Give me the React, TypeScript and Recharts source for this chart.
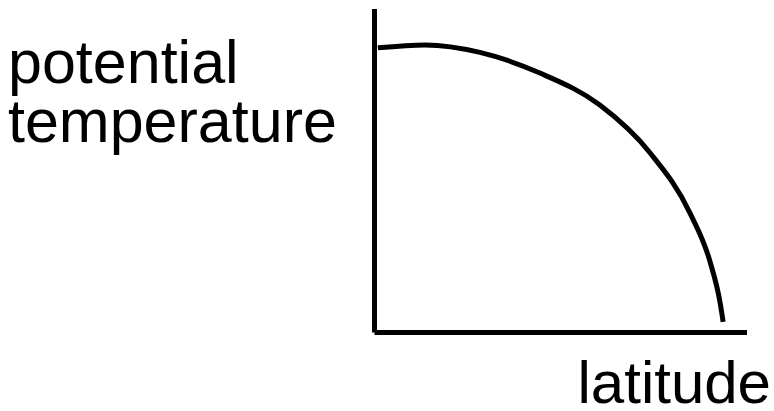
import { Line, LineChart, XAxis, YAxis } from "recharts";

// schematic: potential temperature falling off from equator to pole
const latitude = [0.9, 13.6, 28.3, 44.4, 60.5, 74.0, 84.7, 90.1, 92.8, 93.6];
const theta = [88.0, 88.9, 86.6, 80.2, 70.3, 55.5, 36.9, 21.8, 9.1, 3.3];

const yTitle = ["potential", "temperature"];
const xTitle = "latitude";

const rows = latitude.map((lat, i) => ({ lat, theta: theta[i] }));

const titleStyle = {
  fontFamily: "'Liberation Sans', Arial, Helvetica, sans-serif",
  fill: "#000",
};

const axisLine = { stroke: "#000", strokeWidth: 5 };

function YTitle({ viewBox }: { viewBox?: { x: number; y: number } }) {
  const top = viewBox?.y ?? 0;
  return (
    <text {...titleStyle} fontSize={61} x={8} y={top + 74}>
      <tspan x={8}>{yTitle[0]}</tspan>
      <tspan x={8} dy={59}>
        {yTitle[1]}
      </tspan>
    </text>
  );
}

function XTitle({ viewBox }: { viewBox?: { x: number; y: number; width: number } }) {
  const vb = viewBox ?? { x: 0, y: 0, width: 0 };
  return (
    <text {...titleStyle} fontSize={60} x={vb.x + vb.width + 24} y={vb.y + 70} textAnchor="end">
      {xTitle}
    </text>
  );
}

export default function App() {
  return (
    <div style={{ position: "absolute", left: 0, top: 0, background: "#fff" }}>
      <LineChart
        width={774}
        height={411}
        data={rows}
        margin={{ top: 9, right: 27, bottom: 77.5, left: 373.5 }}
      >
        <XAxis
          type="number"
          dataKey="lat"
          domain={[0, 100]}
          height={1}
          tick={false}
          tickLine={false}
          axisLine={axisLine}
          label={<XTitle />}
        />
        <YAxis
          type="number"
          domain={[0, 100]}
          width={1}
          tick={false}
          tickLine={false}
          axisLine={axisLine}
          label={<YTitle />}
        />
        <Line
          type="monotone"
          dataKey="theta"
          stroke="#000"
          strokeWidth={5}
          dot={false}
          isAnimationActive={false}
        />
      </LineChart>
    </div>
  );
}
